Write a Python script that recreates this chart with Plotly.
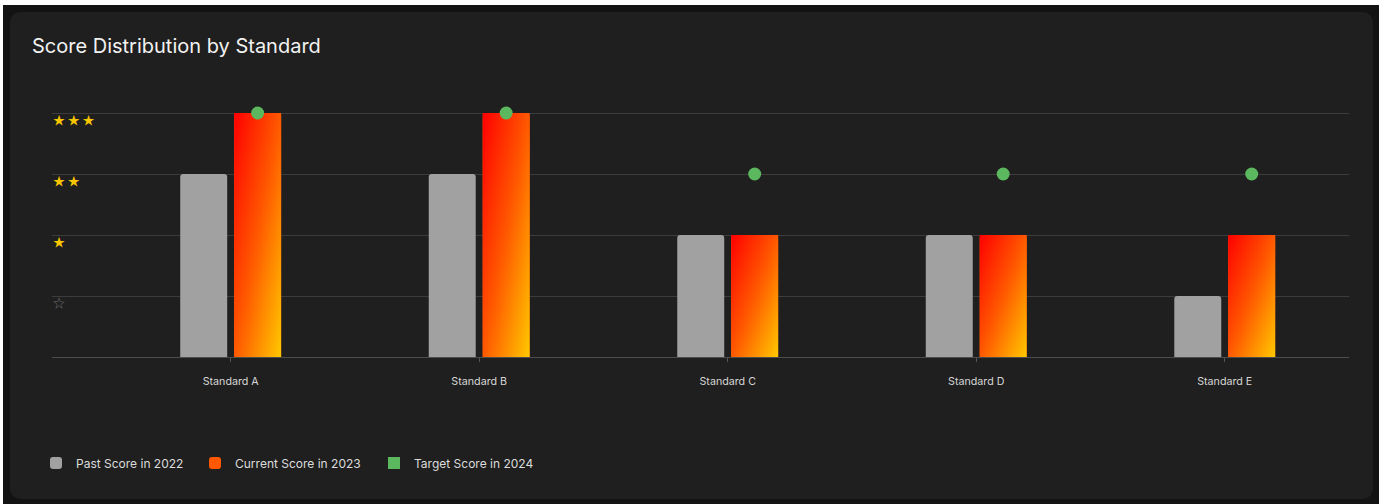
import plotly.graph_objects as go

# ---------------- data ----------------
categories = ["Standard A", "Standard B", "Standard C", "Standard D", "Standard E"]
past_2022 = [3, 3, 2, 2, 1]
current_2023 = [4, 4, 2, 2, 2]
target_2024 = [4, 4, 3, 3, 3]
star_values = [0, 1, 2, 3, 4]
star_labels = ["", "☆", "★", "★★", "★★★"]
series_names = ["Past Score in 2022", "Current Score in 2023", "Target Score in 2024"]
title_text = "Score Distribution by Standard"

# ---------------- geometry / style ----------------
W, H = 1383, 504
ML, MR, MT, MB = 52, 34, 95, 147
PW, PH = W - ML - MR, H - MT - MB
BAR_W = 0.189   # bar width in category units
GAP = 0.028     # gap between the two bars of a group
N_STRIPS = 18
LEGEND_SWATCH_PX = [51, 210, 389]
LEGEND_Y_PX = 463

GRAY = "#a1a1a1"
GREEN = "#5cb85f"
STAR = "#f7c600"
STAR_EMPTY = "#6e6e6e"
FONT = "Inter, Lato, 'Open Sans', sans-serif"

grad_stops = [(0.0, (255, 0, 0)), (0.5, (255, 88, 0)), (1.0, (255, 200, 0))]


def grad(t):
    t = max(0.0, min(1.0, t))
    for (p0, c0), (p1, c1) in zip(grad_stops[:-1], grad_stops[1:]):
        if t <= p1:
            f = (t - p0) / (p1 - p0)
            c = [round(a + (b - a) * f) for a, b in zip(c0, c1)]
            return "rgb(%d,%d,%d)" % tuple(c)
    return "rgb(%d,%d,%d)" % grad_stops[-1][1]


def px_to_paper(x, y):
    return (x - ML) / PW, (H - MB - y) / PH


def rounded_rect_path(x0, y0, x1, y1, r):
    def P(x, y):
        a, b = px_to_paper(x, y)
        return f"{a:.5f},{b:.5f}"
    return (f"M{P(x0 + r, y0)} L{P(x1 - r, y0)} Q{P(x1, y0)} {P(x1, y0 + r)} "
            f"L{P(x1, y1 - r)} Q{P(x1, y1)} {P(x1 - r, y1)} L{P(x0 + r, y1)} "
            f"Q{P(x0, y1)} {P(x0, y1 - r)} L{P(x0, y0 + r)} Q{P(x0, y0)} {P(x0 + r, y0)} Z")


idx = list(range(len(categories)))
fig = go.Figure()

# past scores
fig.add_trace(go.Bar(
    x=idx, y=past_2022, name=series_names[0], width=BAR_W, offset=-BAR_W - GAP / 2,
    marker=dict(color=GRAY, cornerradius=3, line=dict(width=0)),
    customdata=categories, hovertemplate="%{customdata}: %{y}<extra></extra>",
    legend="legend",
))

# current scores (base bar, covered by gradient strips)
fig.add_trace(go.Bar(
    x=idx, y=current_2023, name=series_names[1], width=BAR_W, offset=GAP / 2,
    marker=dict(color=grad(0.5), cornerradius=3, line=dict(width=0)),
    customdata=categories, hovertemplate="%{customdata}: %{y}<extra></extra>",
    legend="legend2",
))

# diagonal gradient overlay (top-left red -> bottom-right yellow)
for i, v in zip(idx, current_2023):
    x0 = i + GAP / 2
    for k in range(N_STRIPS):
        xa = x0 + BAR_W * k / N_STRIPS
        xb = x0 + BAR_W * (k + 1) / N_STRIPS
        if k < N_STRIPS - 1:
            xb += BAR_W * 0.3 / N_STRIPS
        u = (k + 0.5) / N_STRIPS
        cs = [[p, grad((u + 1 - p) / 2)] for p in (0, 0.25, 0.5, 0.75, 1)]
        fig.add_trace(go.Scatter(
            x=[xa, xb, xb, xa, xa], y=[0, 0, v, v, 0], fill="toself", mode="none",
            fillgradient=dict(type="vertical", colorscale=cs, start=0, stop=v),
            showlegend=False, hoverinfo="skip",
        ))

# targets
fig.add_trace(go.Scatter(
    x=[i + GAP / 2 + BAR_W / 2 for i in idx], y=target_2024, mode="markers",
    name=series_names[2], showlegend=False,
    marker=dict(color=GREEN, size=13, line=dict(width=0)),
    customdata=categories, hovertemplate="%{customdata}: %{y}<extra></extra>",
))
# legend entry for targets (square swatch)
fig.add_trace(go.Scatter(
    x=[None], y=[None], mode="markers", name=series_names[2],
    marker=dict(color=GREEN, size=12, symbol="square"),
    legend="legend3",
))


def fmt_star(s):
    if not s:
        return ""
    spaced = " ".join(s)
    if "☆" in s:
        return f"<span style='color:{STAR_EMPTY}'>{spaced}</span>"
    return spaced


shapes = [
    dict(type="rect", xref="paper", yref="paper", layer="below",
         x0=px_to_paper(3, 0)[0], x1=px_to_paper(1379, 0)[0],
         y0=px_to_paper(0, 5)[1], y1=px_to_paper(0, H + 2)[1],
         fillcolor="#131313", line=dict(width=0)),
    dict(type="path", xref="paper", yref="paper", layer="below",
         path=rounded_rect_path(10, 12, 1373, 499, 12),
         fillcolor="#1f1f1f", line=dict(width=0)),
]


def legend_at(px):
    return dict(
        orientation="h", x=(px - 15 - ML) / PW, xanchor="left",
        y=-(LEGEND_Y_PX - (H - MB)) / PH, yanchor="middle",
        bgcolor="rgba(0,0,0,0)",
        font=dict(family=FONT, size=12, color="#dcdcdc"),
        itemwidth=30,
    )


fig.update_layout(
    width=W, height=H,
    margin=dict(l=ML, r=MR, t=MT, b=MB, pad=0),
    paper_bgcolor="#ffffff",
    plot_bgcolor="rgba(0,0,0,0)",
    barmode="overlay",
    shapes=shapes,
    font=dict(family=FONT, color="#dcdcdc"),
    title=dict(text=title_text, xref="container", yref="container",
               x=32 / W, xanchor="left", y=1 - 46 / H, yanchor="middle",
               font=dict(family=FONT, size=20, color="#f2f2f2")),
    xaxis=dict(
        range=[-0.719, 4.5], tickvals=idx, ticktext=categories,
        showgrid=False, zeroline=False, showline=False,
        ticks="outside", ticklen=4, tickcolor="#555555", tickwidth=1,
        ticklabelstandoff=10,
        tickfont=dict(family=FONT, size=10.7, color="#d6d6d6"),
        fixedrange=True,
    ),
    yaxis=dict(
        range=[0, 4.295], tickvals=star_values,
        ticktext=[fmt_star(s) for s in star_labels],
        ticklabelposition="inside", ticklabelshift=8, ticklabelstandoff=-2, ticks="",
        showgrid=True, gridcolor="#3c3c3c", gridwidth=1,
        zeroline=True, zerolinecolor="#4d4d4d", zerolinewidth=1,
        showline=False,
        tickfont=dict(family="Noto Sans CJK JP", size=12, color=STAR),
        fixedrange=True,
    ),
    legend=legend_at(LEGEND_SWATCH_PX[0]),
    legend2=legend_at(LEGEND_SWATCH_PX[1]),
    legend3=legend_at(LEGEND_SWATCH_PX[2]),
    showlegend=True,
)

fig.write_html("out.html", config={"displayModeBar": False},
               post_script="document.body.style.margin='0';")
